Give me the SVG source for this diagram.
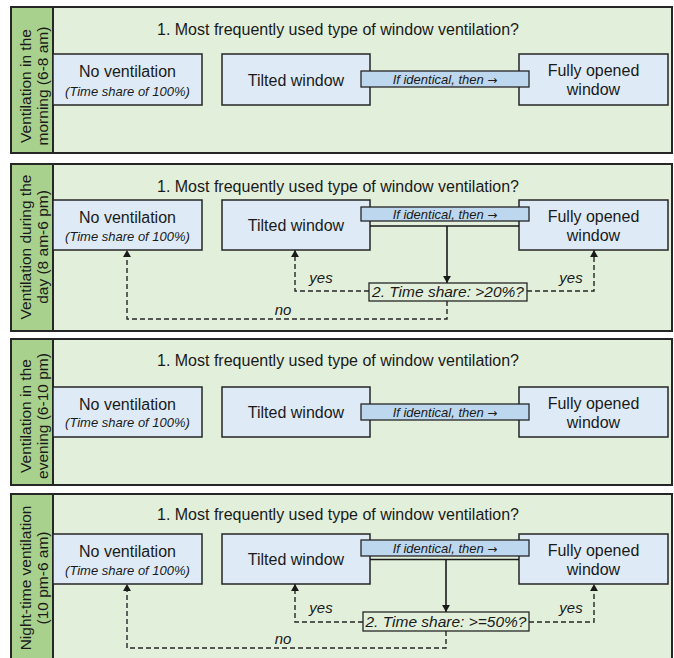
<svg xmlns="http://www.w3.org/2000/svg" width="674" height="658" viewBox="0 0 674 658">
<defs>
<style>
.panel{fill:#e2efda;stroke:#262626;stroke-width:2}
.strip{fill:#a9d18e;stroke:#262626;stroke-width:2}
.box{fill:#deebf7;stroke:#262626;stroke-width:1.5}
.banner{fill:#bdd7ee;stroke:#262626;stroke-width:1.3}
.dec{fill:#e2efda;stroke:#262626;stroke-width:1.3}
text{font-family:"Liberation Sans",Arial,sans-serif;fill:#1a1a1a}
.t16{font-size:16px;text-anchor:middle}
.lab{font-size:15.5px;text-anchor:middle}
.it13{font-size:13px;font-style:italic;text-anchor:middle}
.arr{font-family:"DejaVu Sans",sans-serif;font-style:normal;font-size:12px}
.it15{font-size:15px;font-style:italic;text-anchor:middle}
.dectext{font-size:15.5px;font-style:italic;text-anchor:middle}
.dash{fill:none;stroke:#262626;stroke-width:1.4;stroke-dasharray:5 3}
.solid{fill:none;stroke:#1a1a1a;stroke-width:1.6}
</style>
<marker id="ah" viewBox="0 0 8 9" refX="8" refY="4.5" markerWidth="7" markerHeight="8" markerUnits="userSpaceOnUse" orient="auto">
<path d="M0,0 L8,4.5 L0,9 z" fill="#1a1a1a"/>
</marker>
</defs>

<!-- Panel 1 -->
<g id="panel1">
<rect class="panel" x="11" y="7" width="661" height="146"/>
<rect class="strip" x="11" y="7" width="42" height="146"/>
<text class="lab" transform="translate(31,86) rotate(-90)">Ventilation in the</text>
<text class="lab" transform="translate(48,86) rotate(-90)">morning (6-8 am)</text>
<text class="t16" x="338" y="35">1. Most frequently used type of window ventilation?</text>
</g>
<g id="p1-none"><rect class="box" x="53" y="54" width="149" height="51"/><text class="t16" x="127.5" y="77">No ventilation</text><text class="it13" x="127.5" y="96">(Time share of 100%)</text></g>
<g id="p1-tilted"><rect class="box" x="222" y="54" width="148" height="51"/><text class="t16" x="296" y="86">Tilted window</text></g>
<g id="p1-full"><rect class="box" x="519" y="54" width="149" height="51"/><text class="t16" x="593.5" y="76">Fully opened</text><text class="t16" x="593.5" y="95">window</text></g>
<g id="p1-banner"><rect class="banner" x="361" y="71" width="168" height="16"/><text class="it13" x="445" y="84">If identical, then <tspan class="arr">→</tspan></text></g>

<!-- Panel 2 -->
<g id="panel2">
<rect class="panel" x="11" y="164" width="661" height="167"/>
<rect class="strip" x="11" y="164" width="42" height="167"/>
<text class="lab" transform="translate(31,247) rotate(-90)">Ventilation during the</text>
<text class="lab" transform="translate(48,247) rotate(-90)">day (8 am-6 pm)</text>
<text class="t16" x="338" y="192">1. Most frequently used type of window ventilation?</text>
</g>
<g id="p2-none"><rect class="box" x="53" y="200" width="149" height="50"/><text class="t16" x="127.5" y="223">No ventilation</text><text class="it13" x="127.5" y="241">(Time share of 100%)</text></g>
<g id="p2-tilted"><rect class="box" x="222" y="200" width="148" height="50"/><text class="t16" x="296" y="231">Tilted window</text></g>
<g id="p2-full"><rect class="box" x="519" y="200" width="149" height="50"/><text class="t16" x="593.5" y="222">Fully opened</text><text class="t16" x="593.5" y="241">window</text></g>

<!-- Panel 3 -->
<g id="panel3">
<rect class="panel" x="11" y="339" width="661" height="146"/>
<rect class="strip" x="11" y="339" width="42" height="146"/>
<text class="lab" transform="translate(31,416) rotate(-90)">Ventilation in the</text>
<text class="lab" transform="translate(48,416) rotate(-90)">evening (6-10 pm)</text>
<text class="t16" x="338" y="366">1. Most frequently used type of window ventilation?</text>
</g>
<g id="p3-none"><rect class="box" x="53" y="387" width="149" height="50"/><text class="t16" x="127.5" y="410">No ventilation</text><text class="it13" x="127.5" y="427">(Time share of 100%)</text></g>
<g id="p3-tilted"><rect class="box" x="222" y="387" width="148" height="50"/><text class="t16" x="296" y="418">Tilted window</text></g>
<g id="p3-full"><rect class="box" x="519" y="387" width="149" height="50"/><text class="t16" x="593.5" y="409">Fully opened</text><text class="t16" x="593.5" y="428">window</text></g>
<g id="p3-banner"><rect class="banner" x="361" y="404" width="168" height="16"/><text class="it13" x="445" y="417">If identical, then <tspan class="arr">→</tspan></text></g>

<!-- Panel 4 -->
<g id="panel4">
<rect class="panel" x="11" y="494" width="661" height="170"/>
<rect class="strip" x="11" y="494" width="42" height="170"/>
<text class="lab" transform="translate(31,578) rotate(-90)">Night-time ventilation</text>
<text class="lab" transform="translate(48,578) rotate(-90)">(10 pm-6 am)</text>
<text class="t16" x="338" y="520">1. Most frequently used type of window ventilation?</text>
</g>
<g id="p4-none"><rect class="box" x="53" y="534" width="149" height="50"/><text class="t16" x="127.5" y="557">No ventilation</text><text class="it13" x="127.5" y="575">(Time share of 100%)</text></g>
<g id="p4-tilted"><rect class="box" x="222" y="534" width="148" height="50"/><text class="t16" x="296" y="565">Tilted window</text></g>
<g id="p4-full"><rect class="box" x="519" y="534" width="149" height="50"/><text class="t16" x="593.5" y="556">Fully opened</text><text class="t16" x="593.5" y="575">window</text></g>

<!-- Connectors -->
<g id="connectors">
<line class="solid" x1="370" y1="226" x2="519" y2="226"/>
<line class="solid" x1="447" y1="226" x2="447" y2="283" marker-end="url(#ah)"/>
<path class="dash" d="M369,291 H295 V250" marker-end="url(#ah)"/>
<path class="dash" d="M527,291 H594 V250" marker-end="url(#ah)"/>
<path class="dash" d="M447,301 V319 H127 V250" marker-end="url(#ah)"/>

<line class="solid" x1="370" y1="559.5" x2="519" y2="559.5"/>
<line class="solid" x1="446" y1="559.5" x2="446" y2="612" marker-end="url(#ah)"/>
<path class="dash" d="M363,622 H295 V584" marker-end="url(#ah)"/>
<path class="dash" d="M529,622 H594 V584" marker-end="url(#ah)"/>
<path class="dash" d="M446,631 V648 H127 V584" marker-end="url(#ah)"/>
</g>

<g id="p2-banner"><rect class="banner" x="361" y="207" width="168" height="14"/><text class="it13" x="445" y="218.5">If identical, then <tspan class="arr">→</tspan></text></g>
<g id="p2-decision"><rect class="dec" x="369" y="283" width="158" height="18"/><text class="dectext" x="448" y="297">2. Time share: &gt;20%?</text></g>
<g id="p4-banner"><rect class="banner" x="361" y="540" width="168" height="16"/><text class="it13" x="445" y="553">If identical, then <tspan class="arr">→</tspan></text></g>
<g id="p4-decision"><rect class="dec" x="363" y="612" width="166" height="19"/><text class="dectext" x="446" y="627">2. Time share: &gt;=50%?</text></g>

<g id="labels">
<text class="it15" x="321" y="283">yes</text>
<text class="it15" x="571" y="283">yes</text>
<text class="it15" x="283" y="315">no</text>
<text class="it15" x="321" y="613">yes</text>
<text class="it15" x="571" y="613">yes</text>
<text class="it15" x="283" y="644">no</text>
</g>
</svg>
